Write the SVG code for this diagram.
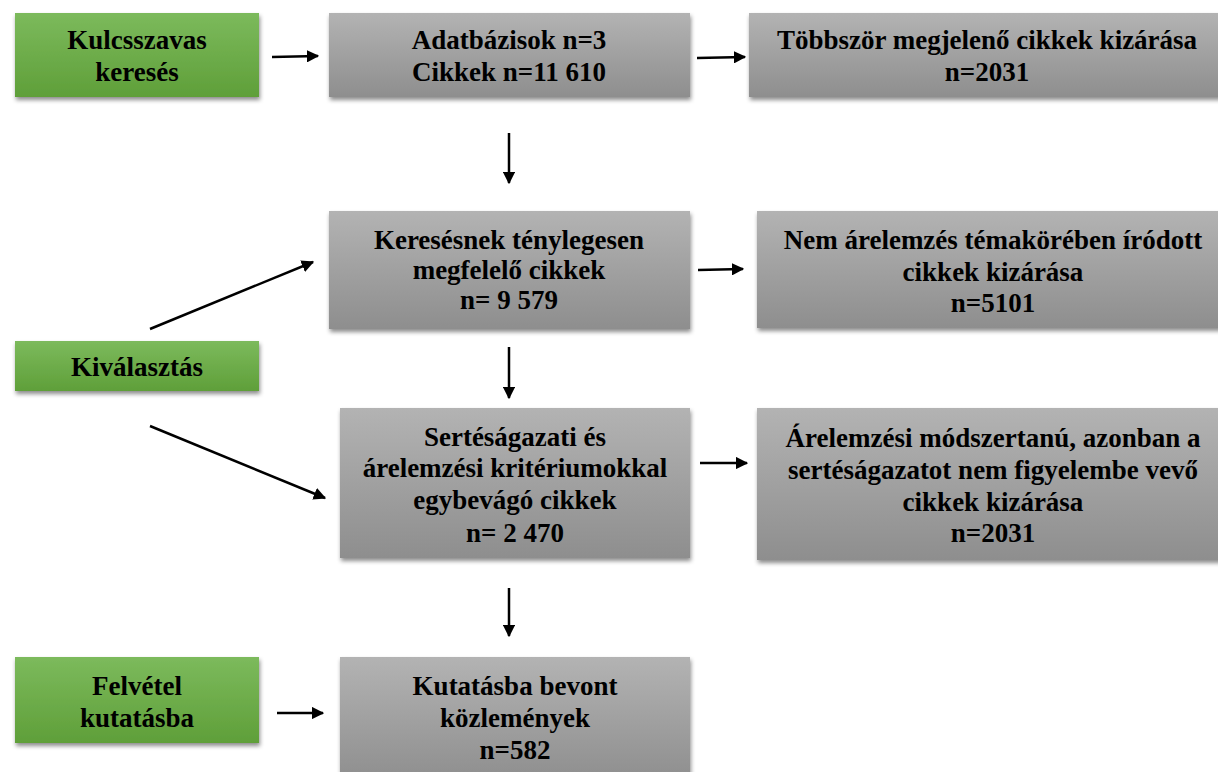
<svg xmlns="http://www.w3.org/2000/svg" width="1218" height="772" viewBox="0 0 1218 772">
<defs>
<linearGradient id="gGray" x1="0" y1="0" x2="0" y2="1">
<stop offset="0" stop-color="#b3b3b3"/>
<stop offset="1" stop-color="#8e8e8e"/>
</linearGradient>
<linearGradient id="gGreen" x1="0" y1="0" x2="0" y2="1">
<stop offset="0" stop-color="#7cba5c"/>
<stop offset="1" stop-color="#5f9f39"/>
</linearGradient>
<filter id="sh" x="-5%" y="-10%" width="115%" height="130%">
<feDropShadow dx="1" dy="3" stdDeviation="2" flood-color="#000" flood-opacity="0.45"/>
</filter>
<marker id="ah" viewBox="0 0 10 10" refX="9" refY="5" markerWidth="5" markerHeight="5" orient="auto" markerUnits="strokeWidth">
<path d="M0,0 L10,5 L0,10 z" fill="#000"/>
</marker>
</defs>
<style>
.gray{fill:url(#gGray);filter:url(#sh)}
.green{fill:url(#gGreen);filter:url(#sh)}
.t{font-family:'Liberation Serif','DejaVu Serif','Noto Serif',serif;font-weight:700;font-size:27px;fill:#000;text-anchor:middle}
.conn line{stroke:#000;stroke-width:2.5;marker-end:url(#ah)}
</style>
<rect width="1218" height="772" fill="#fff"/>

<g id="n-kulcsszavas" class="t" font-family="Liberation Serif, serif">
<rect class="green" x="15" y="13" width="244" height="84"/>
<text x="137" y="49">Kulcsszavas</text>
<text x="137" y="81">keresés</text>
</g>
<g id="n-adatbazisok" class="t">
<rect class="gray" x="329" y="13" width="361" height="84"/>
<text x="509" y="49">Adatbázisok n=3</text>
<text x="509" y="81">Cikkek n=11 610</text>
</g>
<g id="n-tobbszor" class="t">
<rect class="gray" x="749" y="13" width="472" height="84"/>
<text x="987" y="49">Többször megjelenő cikkek kizárása</text>
<text x="987" y="81">n=2031</text>
</g>
<g id="n-keresesnek" class="t">
<rect class="gray" x="329" y="211" width="361" height="118"/>
<text x="509" y="249">Keresésnek ténylegesen</text>
<text x="509" y="279">megfelelő cikkek</text>
<text x="509" y="309">n= 9 579</text>
</g>
<g id="n-nem" class="t">
<rect class="gray" x="757" y="211" width="464" height="117"/>
<text x="993" y="249">Nem árelemzés témakörében íródott</text>
<text x="993" y="281">cikkek kizárása</text>
<text x="993" y="312">n=5101</text>
</g>
<g id="n-kivalasztas" class="t">
<rect class="green" x="15" y="341" width="244" height="50"/>
<text x="137" y="376">Kiválasztás</text>
</g>
<g id="n-sertes" class="t">
<rect class="gray" x="340" y="408" width="350" height="150"/>
<text x="515" y="446">Sertéságazati és</text>
<text x="515" y="477">árelemzési kritériumokkal</text>
<text x="515" y="509">egybevágó cikkek</text>
<text x="515" y="542">n= 2 470</text>
</g>
<g id="n-arelemzesi" class="t">
<rect class="gray" x="757" y="408" width="464" height="152"/>
<text x="993" y="447">Árelemzési módszertanú, azonban a</text>
<text x="993" y="479">sertéságazatot nem figyelembe vevő</text>
<text x="993" y="511">cikkek kizárása</text>
<text x="993" y="542">n=2031</text>
</g>
<g id="n-felvetel" class="t">
<rect class="green" x="15" y="657" width="244" height="86"/>
<text x="137" y="695">Felvétel</text>
<text x="137" y="727">kutatásba</text>
</g>
<g id="n-kutatasba" class="t">
<rect class="gray" x="340" y="657" width="350" height="125"/>
<text x="515" y="695">Kutatásba bevont</text>
<text x="515" y="727">közlemények</text>
<text x="515" y="759">n=582</text>
</g>

<g id="connectors" class="conn">
<line x1="272" y1="57" x2="318" y2="56"/>
<line x1="697" y1="58" x2="745" y2="57"/>
<line x1="509" y1="133" x2="509" y2="183"/>
<line x1="150" y1="329" x2="313" y2="262"/>
<line x1="150" y1="426" x2="325" y2="498"/>
<line x1="698" y1="270" x2="743" y2="269"/>
<line x1="509" y1="347" x2="509" y2="398"/>
<line x1="700" y1="463" x2="747" y2="463"/>
<line x1="509" y1="588" x2="509" y2="636"/>
<line x1="277" y1="713" x2="323" y2="713"/>
</g>
</svg>
